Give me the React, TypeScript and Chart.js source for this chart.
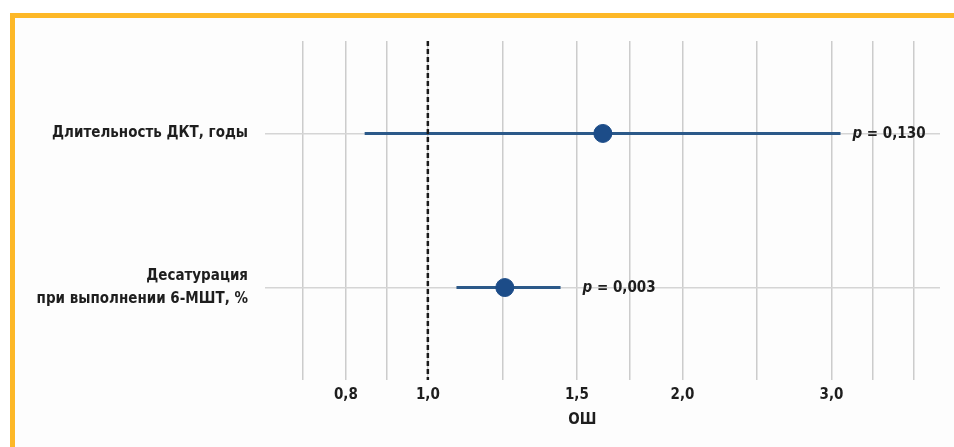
import React, { useEffect, useRef } from "react";
import { Chart, registerables } from "chart.js";

Chart.register(...registerables);

// ---- data ----
const categories: (string | string[])[] = [
  "Длительность ДКТ, годы",
  ["Десатурация", "при выполнении 6-МШТ, %"],
];
const orValues = [1.61, 1.233];
const ciLower = [0.842, 1.081];
const ciUpper = [3.074, 1.435];
const pValues = ["0,130", "0,003"];
const majorTicks = [0.8, 1.0, 1.5, 2.0, 3.0];
const tickLabels = ["0,8", "1,0", "1,5", "2,0", "3,0"];
const minorGrid = [0.711, 0.894, 1.225, 1.732, 2.449, 3.357, 3.754];
const xMin = 0.642;
const xMax = 4.03;
const axisTitle = "ОШ";

const FONT = "'DejaVu Sans Condensed', 'Liberation Sans Narrow', sans-serif";
const FS = 15;
const TEXT = "#1e1e1e";
const BLUE_PT = "#1c4c88";
const BLUE_LN = "#2b5989";

export default function App() {
  const ref = useRef<HTMLCanvasElement | null>(null);

  useEffect(() => {
    if (!ref.current) return;

    const pLabels = {
      id: "pLabels",
      afterDraw(chart: any) {
        const { ctx, scales, chartArea } = chart;
        const xs = scales.x;
        const ys = scales.y;
        const gaps = [12, 22];
        ctx.save();
        ctx.fillStyle = TEXT;
        ctx.textBaseline = "middle";
        ctx.textAlign = "left";
        pValues.forEach((p, i) => {
          let x = xs.getPixelForValue(ciUpper[i]) + gaps[i];
          const y = ys.getPixelForValue(i) + 1;
          ctx.font = `italic bold ${FS}px ${FONT}`;
          ctx.fillText("p", x, y);
          x += ctx.measureText("p").width;
          ctx.font = `bold ${FS}px ${FONT}`;
          ctx.fillText(" = " + p, x, y);
        });
        // axis title
        ctx.font = `bold ${FS}px ${FONT}`;
        ctx.textAlign = "center";
        ctx.fillText(
          axisTitle,
          chartArea.left + (chartArea.right - chartArea.left) * 0.47,
          chartArea.bottom + 40
        );
        ctx.restore();
      },
    };

    const chart = new Chart(ref.current, {
      type: "scatter",
      data: {
        datasets: [
          {
            label: "OR",
            data: orValues.map((v, i) => ({ x: v, y: i })),
            pointRadius: 9,
            pointHoverRadius: 9,
            pointBackgroundColor: BLUE_PT,
            pointBorderColor: BLUE_PT,
            showLine: false,
            order: 0,
          } as any,
          {
            label: "ref",
            data: [
              { x: 1, y: -0.6 },
              { x: 1, y: 1.6 },
            ],
            showLine: true,
            borderColor: "#1a1a1a",
            borderWidth: 2.5,
            borderDash: [5, 3],
            pointRadius: 0,
            order: 1,
          } as any,
          ...orValues.map(
            (_, i) =>
              ({
                label: "ci" + i,
                data: [
                  { x: ciLower[i], y: i },
                  { x: ciUpper[i], y: i },
                ],
                showLine: true,
                borderColor: BLUE_LN,
                borderWidth: 3,
                pointRadius: 0,
                order: 2,
              } as any)
          ),
        ],
      },
      options: {
        animation: false,
        responsive: false,
        maintainAspectRatio: false,
        layout: { padding: { top: 23, right: 14, left: 0, bottom: 0 } },
        plugins: {
          legend: { display: false },
          tooltip: { enabled: false },
          title: { display: false },
        },
        scales: {
          x: {
            type: "logarithmic",
            bounds: "data",
            min: xMin,
            max: xMax,
            afterBuildTicks: (scale: any) => {
              scale.ticks = [...minorGrid, ...majorTicks]
                .sort((a, b) => a - b)
                .map((v) => ({ value: v }));
            },
            afterFit: (scale: any) => {
              scale.height = 67;
              scale.paddingLeft = 0;
              scale.paddingRight = 0;
            },
            border: { display: false },
            grid: {
              color: "#cccccc",
              lineWidth: 1.5,
              drawTicks: false,
            },
            ticks: {
              autoSkip: false,
              maxRotation: 0,
              padding: 6,
              color: TEXT,
              font: { family: FONT, size: FS, weight: "bold" },
              callback: (value: any) => {
                const idx = majorTicks.findIndex((m) => Math.abs(m - Number(value)) < 1e-6);
                return idx >= 0 ? tickLabels[idx] : "";
              },
            },
          },
          y: {
            type: "linear",
            bounds: "data",
            min: -0.6,
            max: 1.6,
            reverse: true,
            afterBuildTicks: (scale: any) => {
              scale.ticks = categories.map((_, i) => ({ value: i }));
            },
            afterFit: (scale: any) => {
              scale.width = 250;
              scale.paddingTop = 0;
              scale.paddingBottom = 0;
            },
            border: { display: false },
            grid: {
              color: "#d5d5d5",
              lineWidth: 1.5,
              drawTicks: false,
            },
            ticks: {
              autoSkip: false,
              padding: 17,
              color: TEXT,
              font: { family: FONT, size: FS, weight: "bold", lineHeight: 1.5 },
              callback: (value: any) => categories[Math.round(Number(value))] as any,
            },
          },
        },
      },
      plugins: [pLabels],
    });

    return () => chart.destroy();
  }, []);

  return (
    <div
      style={{
        position: "fixed",
        left: 10,
        top: 13,
        width: 944,
        height: 434,
        boxSizing: "border-box",
        borderLeft: "5px solid #fdb827",
        borderTop: "5px solid #fdb827",
        background: "#fdfdfd",
      }}
    >
      <canvas ref={ref} width={939} height={429} style={{ display: "block", width: 939, height: 429 }} />
    </div>
  );
}
